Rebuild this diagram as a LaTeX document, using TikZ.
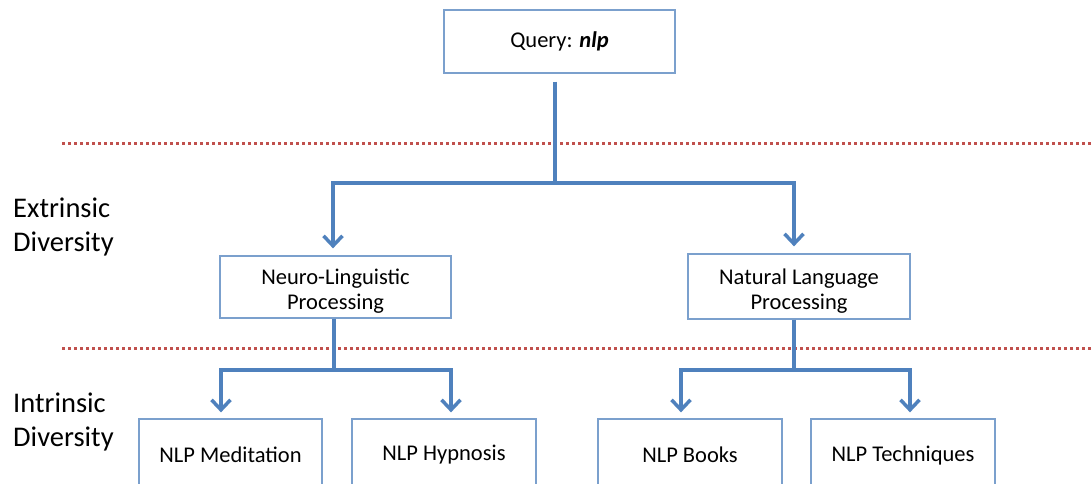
\documentclass[tikz,border=0pt]{standalone}
\usepackage{fontspec}
\setmainfont{Carlito}
\usetikzlibrary{arrows.meta}
\definecolor{linkblue}{HTML}{4F81BD}
\definecolor{boxblue}{HTML}{7BA0CD}
\definecolor{sepred}{HTML}{C0504D}
\tikzset{
  box/.style={draw=boxblue, line width=1.3pt, fill=white, align=center, inner sep=0pt,
    font=\fontsize{22.5}{25}\selectfont},
  twoline/.style={text height=45pt, text depth=0pt},
  conn/.style={draw=linkblue, line width=3.5pt},
  arr/.style={conn, -{Straight Barb[length=10pt,width=19pt,line width=3.5pt]}},
  sep/.style={draw=sepred, line width=3pt, dash pattern=on 3pt off 3pt},
  side/.style={align=left, anchor=west, inner sep=0pt, font=\fontsize{28.5}{34}\selectfont},
}
\begin{document}
\begin{tikzpicture}[x=1pt,y=-1pt]
\useasboundingbox (0,0) rectangle (1091,483);
\clip (0,0) rectangle (1091,483);
% separators
\coordinate (s1a) at (62,143); \coordinate (s1b) at (1091,143);
\coordinate (s2a) at (62,348); \coordinate (s2b) at (1091,348);
\draw[sep] (s1a) -- (s1b);
\draw[sep] (s2a) -- (s2b);
% nodes
\node[box, minimum width=231pt, minimum height=63pt] (q) at (559.5,41.5) {Query: \textbf{\textit{nlp}}};
\node[box, twoline, minimum width=231pt, minimum height=62pt] (a) at (335.5,287) {Neuro-Linguistic\\Processing};
\node[box, twoline, minimum width=222pt, minimum height=65pt] (b) at (799,286.5) {Natural Language\\Processing};
\node[box, minimum width=183pt, minimum height=72pt] (a1) at (230.5,455) {NLP Meditation};
\node[box, minimum width=184pt, minimum height=72pt] (a2) at (444,455) {NLP Hypnosis};
\node[box, minimum width=184pt, minimum height=72pt] (b1) at (690,455) {NLP Books};
\node[box, minimum width=184pt, minimum height=72pt] (b2) at (903,455) {NLP Techniques};
\node[side] (ext) at (13,227) {Extrinsic\\Diversity};
\node[side] (int) at (13,422) {Intrinsic\\Diversity};
% connectors
\coordinate (j1) at (555,183);
\coordinate (j2) at (334,370);
\coordinate (j3) at (794,370);
\draw[conn, shorten <=8pt] (q.south -| j1) -- (j1);
\draw[arr, shorten >=7pt] (j1) -| ([xshift=-2.5pt]a.north);
\draw[arr, shorten >=7pt] (j1) -| ([xshift=-5pt]b.north);
\draw[conn] (a.south -| j2) -- (j2);
\draw[arr, shorten >=6pt] (j2) -| ([xshift=-9.5pt]a1.north);
\draw[arr, shorten >=6pt] (j2) -| ([xshift=7pt]a2.north);
\draw[conn] (b.south -| j3) -- (j3);
\draw[arr, shorten >=6pt] (j3) -| ([xshift=-9pt]b1.north);
\draw[arr, shorten >=6pt] (j3) -| ([xshift=7pt]b2.north);
\end{tikzpicture}
\end{document}
